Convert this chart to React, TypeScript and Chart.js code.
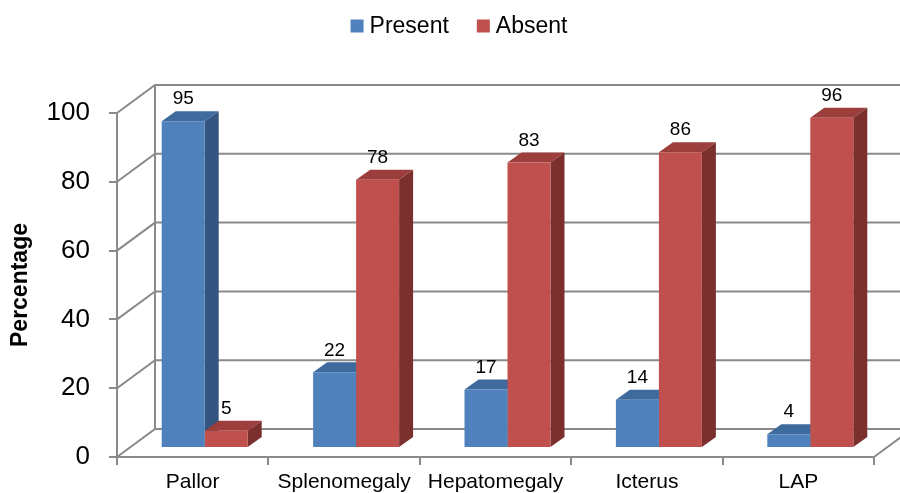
import React, { useEffect, useRef } from 'react';
import { Chart, registerables } from 'chart.js';

Chart.register(...registerables);

const categories = ['Pallor', 'Splenomegaly', 'Hepatomegaly', 'Icterus', 'LAP'];
const seriesNames = ['Present', 'Absent'];
const presentValues = [95, 22, 17, 14, 4];
const absentValues = [5, 78, 83, 86, 96];
const yMin = 0;
const yMax = 100;
const yStep = 20;
const yTitle = 'Percentage';

const FONT = '"Liberation Sans", Arial, sans-serif';
const GRID = '#8a8a8a';
const WALL_DX = 38;
const WALL_DY = 28;
const BAR_DX = 12;
const BAR_DY = 9;
const DEPTH_DX = 14;
const DEPTH_DY = 10;
const LEGEND_CENTER_X = 459;
const LEGEND_CENTER_Y = 26;

const shades = [
  { front: '#4F81BD', top: '#3F6A9E', side: '#34557F' },
  { front: '#C0504D', top: '#9C3F3C', side: '#7C302E' },
];

const threeD = {
  id: 'threeD',
  beforeDatasetsDraw(chart: any) {
    const { ctx, chartArea: a, scales } = chart;
    const ys = scales.y;
    ctx.save();
    ctx.strokeStyle = GRID;
    ctx.lineWidth = 2;
    ctx.beginPath();
    ys.ticks.forEach((t: any) => {
      const py = ys.getPixelForValue(t.value);
      ctx.moveTo(a.left, py);
      ctx.lineTo(a.left + WALL_DX, py - WALL_DY);
      ctx.lineTo(a.right + WALL_DX, py - WALL_DY);
    });
    ctx.moveTo(a.left + WALL_DX, a.top - WALL_DY);
    ctx.lineTo(a.left + WALL_DX, a.bottom - WALL_DY);
    ctx.moveTo(a.right + WALL_DX, a.top - WALL_DY);
    ctx.lineTo(a.right + WALL_DX, a.bottom - WALL_DY);
    ctx.moveTo(a.right, a.bottom);
    ctx.lineTo(a.right + WALL_DX, a.bottom - WALL_DY);
    ctx.stroke();
    ctx.restore();

    ctx.save();
    ctx.translate(BAR_DX, -BAR_DY);
    chart.data.datasets.forEach((_ds: any, di: number) => {
      const meta = chart.getDatasetMeta(di);
      meta.data.forEach((el: any) => {
        const { x, y, base, width } = el.getProps(['x', 'y', 'base', 'width'], true);
        const l = x - width / 2;
        const r = x + width / 2;
        ctx.fillStyle = shades[di].top;
        ctx.beginPath();
        ctx.moveTo(l, y);
        ctx.lineTo(r, y);
        ctx.lineTo(r + DEPTH_DX, y - DEPTH_DY);
        ctx.lineTo(l + DEPTH_DX, y - DEPTH_DY);
        ctx.closePath();
        ctx.fill();
        ctx.fillStyle = shades[di].side;
        ctx.beginPath();
        ctx.moveTo(r, y);
        ctx.lineTo(r + DEPTH_DX, y - DEPTH_DY);
        ctx.lineTo(r + DEPTH_DX, base - DEPTH_DY);
        ctx.lineTo(r, base);
        ctx.closePath();
        ctx.fill();
      });
    });
  },
  afterDatasetsDraw(chart: any) {
    const { ctx } = chart;
    ctx.fillStyle = '#000';
    ctx.font = `19px ${FONT}`;
    ctx.textAlign = 'center';
    ctx.textBaseline = 'middle';
    chart.data.datasets.forEach((ds: any, di: number) => {
      const meta = chart.getDatasetMeta(di);
      meta.data.forEach((el: any, i: number) => {
        const { x, y } = el.getProps(['x', 'y'], true);
        ctx.fillText(String(ds.data[i]), x, y - 22);
      });
    });
    ctx.restore();
  },
  afterDraw(chart: any) {
    const { ctx } = chart;
    ctx.save();
    ctx.font = `23px ${FONT}`;
    ctx.textBaseline = 'middle';
    ctx.textAlign = 'left';
    const box = 13;
    const gap = 6;
    const spacing = 28;
    const items = chart.data.datasets.map((ds: any, i: number) => ({
      text: ds.label,
      color: shades[i].front,
      w: ctx.measureText(ds.label).width,
    }));
    const total =
      items.reduce((s: number, it: any) => s + box + gap + it.w, 0) + spacing * (items.length - 1);
    let x = LEGEND_CENTER_X - total / 2;
    items.forEach((it: any) => {
      ctx.fillStyle = it.color;
      ctx.fillRect(x, LEGEND_CENTER_Y - box / 2, box, box);
      ctx.fillStyle = '#000';
      ctx.fillText(it.text, x + box + gap, LEGEND_CENTER_Y + 1);
      x += box + gap + it.w + spacing;
    });
    ctx.restore();
  },
};

export default function App() {
  const ref = useRef<HTMLCanvasElement>(null);
  useEffect(() => {
    if (!ref.current) return;
    const chart = new Chart(ref.current, {
      type: 'bar',
      data: {
        labels: categories,
        datasets: [
          {
            label: seriesNames[0],
            data: presentValues,
            backgroundColor: shades[0].front,
            borderWidth: 0,
            clip: false,
            categoryPercentage: 0.568,
            barPercentage: 1,
          } as any,
          {
            label: seriesNames[1],
            data: absentValues,
            backgroundColor: shades[1].front,
            borderWidth: 0,
            clip: false,
            categoryPercentage: 0.568,
            barPercentage: 1,
          } as any,
        ],
      },
      options: {
        animation: false,
        responsive: false,
        devicePixelRatio: 1,
        layout: { padding: { top: 113, right: 26, left: 0, bottom: 0 } },
        plugins: {
          legend: { display: false },
          tooltip: { enabled: false },
        },
        scales: {
          x: {
            offset: true,
            grid: {
              display: true,
              drawOnChartArea: false,
              drawTicks: true,
              tickLength: 8,
              color: GRID,
              lineWidth: 2,
              offset: true,
            },
            border: { display: true, color: GRID, width: 2 },
            ticks: {
              color: '#000',
              font: { family: FONT, size: 21 },
              padding: 5,
              maxRotation: 0,
              autoSkip: false,
            },
            afterFit: (s: any) => {
              s.height = 36;
            },
          },
          y: {
            min: yMin,
            max: yMax,
            ticks: {
              stepSize: yStep,
              color: '#000',
              font: { family: FONT, size: 26 },
              padding: 19,
            },
            grid: {
              drawOnChartArea: false,
              tickLength: 8,
              color: GRID,
              lineWidth: 2,
            },
            border: { display: true, color: GRID, width: 2 },
            title: {
              display: true,
              text: yTitle,
              color: '#000',
              font: { family: FONT, size: 23, weight: 'bold' },
              padding: { top: 7, bottom: 0 },
            },
            afterFit: (s: any) => {
              s.width = 117;
            },
          },
        },
      } as any,
      plugins: [threeD],
    });
    return () => chart.destroy();
  }, []);
  return (
    <div style={{ position: 'absolute', left: 0, top: 0, width: 900, height: 493, background: '#fff' }}>
      <canvas ref={ref} width={900} height={493} style={{ display: 'block' }} />
    </div>
  );
}
